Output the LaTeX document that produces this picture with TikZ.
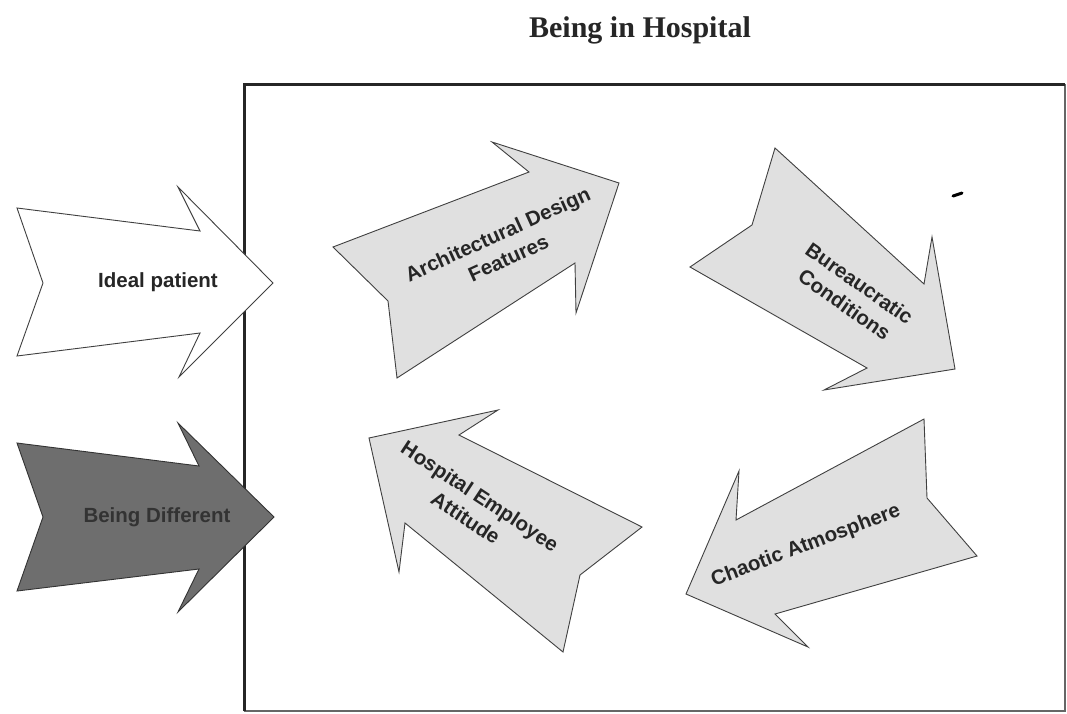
\documentclass[tikz,border=0pt]{standalone}
\usepackage{fontspec}
\setmainfont{Liberation Serif}
\newfontfamily\labfont{Liberation Sans}
\begin{document}
\begin{tikzpicture}[x=1pt,y=-1pt,
  arrowshape/.style={draw=black!75,line width=0.9pt,line join=miter,fill=black!12},
  whiteshape/.style={arrowshape,fill=white},
  darkshape/.style={arrowshape,fill=black!57,draw=black!80},
  lab/.style={font=\labfont\bfseries\fontsize{20.5}{26}\selectfont,text=black!85,align=center,inner sep=0pt},
  titlestyle/.style={font=\bfseries\fontsize{30}{34}\selectfont,text=black!85,inner sep=0pt}]
\useasboundingbox (0,0) rectangle (1067,713);
\fill[white] (0,0) rectangle (1067,713);
% title
\node[titlestyle] (title) at (640,30) {Being in Hospital};
% frame
\draw[line width=1.6pt,black!60] (1065,84) -- (1065,711) -- (244,711);
\draw[line width=3pt,black!85,line cap=square] (244,711) -- (244,84) -- (1065,84);
% stray mark
\draw[line width=3pt,line cap=round] (953,196) -- (962,193);
% Ideal patient
\draw[whiteshape] (17,208) -- (200,231) -- (178,187) -- (273,283) -- (179,377) -- (200,333) -- (17,356) -- (43,283) -- cycle;
\node[lab] (ideal) at (158,282) {Ideal patient};
% Being Different
\draw[darkshape] (17,443) -- (199,466) -- (178,423) -- (274,517) -- (178,612) -- (199,569) -- (17,591) -- (43,517) -- cycle;
\node[lab,text=black!80] (diff) at (157,517) {Being Different};
% Architectural Design Features
\draw[arrowshape] (333,247) -- (529,172) -- (492,142) -- (619,183) -- (576,313) -- (575,263) -- (397,378) -- (388,301) -- cycle;
\node[lab,rotate=24.4] (arch) at (503,246) {Architectural Design\\Features};
% Bureaucratic Conditions
\draw[arrowshape] (690,267) -- (752,225) -- (775,148) -- (924,284) -- (932,237) -- (955,369) -- (824,390) -- (867,368) -- cycle;
\node[lab,rotate=-35] (bur) at (852,294) {Bureaucratic\\Conditions};
% Chaotic Atmosphere
\draw[arrowshape] (686,594) -- (739,471) -- (736,520) -- (924,419) -- (927,498) -- (977,556) -- (775,614) -- (808,647) -- cycle;
\node[lab,rotate=20.8] (chaos) at (806,546) {Chaotic Atmosphere};
% Hospital Employee Attitude
\draw[arrowshape] (369,438) -- (498,410) -- (459,435) -- (642,527) -- (580,575) -- (563,652) -- (405,523) -- (399,572) -- cycle;
\node[lab,rotate=-33.3] (hosp) at (473,507) {Hospital Employee\\Attitude};
\end{tikzpicture}
\end{document}
